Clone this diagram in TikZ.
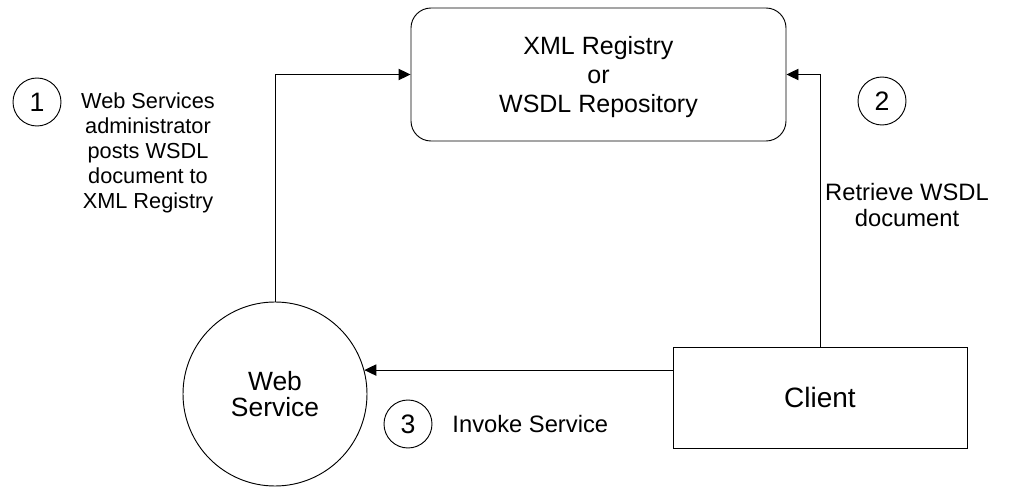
\documentclass[tikz,border=0pt]{standalone}
\usepackage{fontspec}
\setmainfont{Liberation Sans}
\usetikzlibrary{arrows.meta}
\begin{document}
\begin{tikzpicture}[x=0.75pt,y=-0.75pt,
  line width=0.7pt,
  arr/.style={-{Triangle[length=9pt,width=8.5pt]}},
  bigtext/.style={font=\fontsize{18.75pt}{21.75pt}\selectfont, align=center},
  labeltext/.style={font=\fontsize{16.3pt}{18.75pt}\selectfont, align=center},
  widelabel/.style={font=\fontsize{17.8pt}{19.5pt}\selectfont, align=center},
  stepnum/.style={draw, circle, minimum size=36pt, inner sep=0pt,
    font=\fontsize{20pt}{22pt}\selectfont},
]
\useasboundingbox (0,0) rectangle (1018,488);

% main nodes
\node[draw, rounded corners=15pt, minimum width=281.25pt, minimum height=99.75pt,
  label={[bigtext, yshift=-2.25pt]center:{XML Registry\\or\\WSDL Repository}}] (reg) at (598.5,74.5) {};
\node[draw, circle, minimum size=138pt, inner sep=0pt,
  font=\fontsize{19.8pt}{20pt}\selectfont, align=center] (ws) at (275,394) {Web\\Service};
\node[draw, minimum width=220.5pt, minimum height=75.75pt,
  font=\fontsize{21pt}{22pt}\selectfont] (cl) at (820,397.5) {Client};

% step markers and captions
\node[stepnum] (n1) at (37,102) {1};
\node[labeltext] (t1) at (148,152.5) {Web Services\\administrator\\posts WSDL\\document to\\XML Registry};
\node[stepnum] (n2) at (882,101) {2};
\node[widelabel] (t2) at (907,205) {Retrieve WSDL\\document};
\node[stepnum] (n3) at (408,424) {3};
\node[widelabel, anchor=west, inner sep=0pt] (t3) at (452,424) {Invoke Service};

% connectors
\draw[arr] (ws.north) |- (reg.west);
\draw[arr] (cl.north) |- (reg.east);
\draw[arr] (cl.west |- ws.15.8) -- (ws.15.8);
\end{tikzpicture}
\end{document}
